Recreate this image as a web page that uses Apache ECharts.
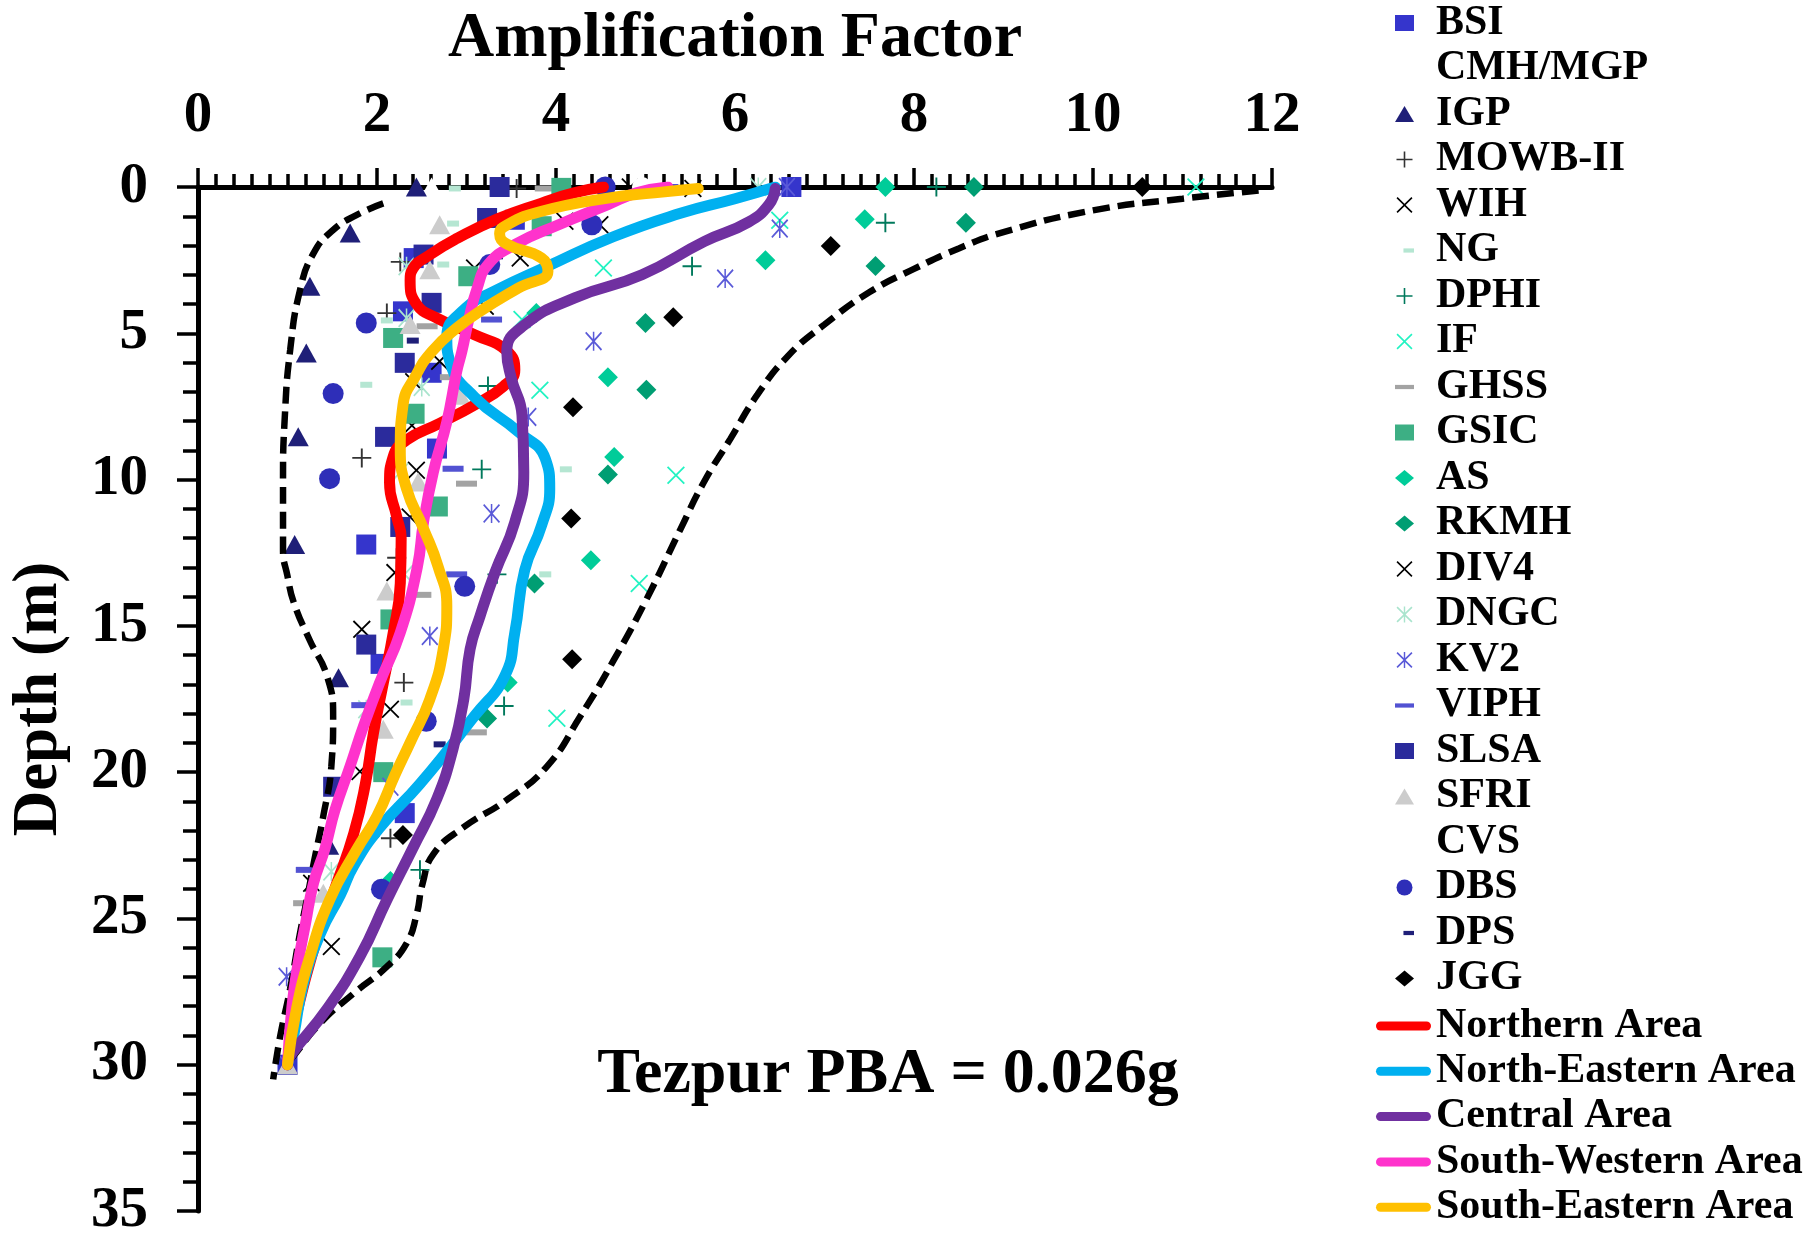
<!DOCTYPE html>
<html>
<head>
<meta charset="utf-8">
<title>Tezpur PBA - Amplification Factor</title>
<script src="https://cdn.jsdelivr.net/npm/echarts@6/dist/echarts.min.js"></script>
<style>
html, body { margin: 0; padding: 0; background: #fff; }
#chart { width: 1816px; height: 1239px; }
</style>
</head>
<body>
<div id="chart"></div>
<script>
// station points: [amplification factor, depth (m)]
const BSI = [[6.63,0],[3.54,1.12],[2.41,2.43],[2.29,4.25],[2.61,6.35],[2.67,8.94],[1.88,12.22],[2.04,16.3],[2.31,21.4],[1.0,30]];
const CMH_MGP = [[2.61,0]];
const IGP = [[2.44,0],[1.70,1.57],[1.25,3.39],[1.21,5.67],[1.12,8.54],[1.08,12.22],[1.57,16.77],[1.46,22.5],[1.0,30]];
const MOWB_II = [[3.56,0.05],[2.26,2.56],[2.11,4.31],[1.83,9.26],[2.22,12.67],[2.30,16.94],[2.15,22.26]];
const WIH = [[4.83,0],[4.10,1.17],[3.09,2.77],[3.21,4.08],[2.70,5.96],[2.39,8.15],[2.37,11.28],[1.83,15.12],[1.81,19.98],[1.27,23.8]];
const NG = [[2.87,0.05],[2.85,1.25],[2.74,2.65],[2.11,4.56],[1.88,6.76],[4.11,9.65],[3.88,13.24],[2.33,17.62]];
const DPHI = [[8.25,0],[7.68,1.22],[5.52,2.71],[3.24,6.8],[3.17,9.65],[3.34,13.24],[3.42,17.74],[2.48,23.34]];
const IF = [[11.15,0],[6.5,1.14],[4.53,2.77],[3.62,4.53],[3.82,6.95],[5.34,9.85],[4.93,13.55],[4.01,18.16]];
const GHSS = [[3.88,0.05],[2.56,4.76],[2.82,6.5],[3.0,10.14],[2.49,13.94],[3.11,18.64],[1.18,24.48]];
const GSIC = [[4.06,0.03],[3.84,1.34],[3.02,3.05],[2.18,5.16],[2.42,7.75],[2.68,10.92],[2.15,14.78],[2.07,20.0],[2.06,26.33]];
const AS = [[7.68,0],[7.45,1.1],[6.34,2.5],[3.78,4.31],[4.58,6.5],[4.65,9.23],[4.39,12.76],[3.46,16.94],[2.15,23.72]];
const RKMH = [[8.67,0],[8.58,1.22],[7.57,2.7],[5.0,4.65],[5.01,6.93],[4.58,9.83],[3.76,13.55],[3.23,18.17],[1.92,22.2]];
const DIV4 = [[5.53,0.05],[4.49,1.29],[3.60,2.43],[2.41,6.66],[2.44,9.68],[2.2,13.18],[2.15,17.85],[1.49,25.96]];
const DNGC = [[6.26,0],[2.33,2.71],[2.33,4.48],[2.50,6.84],[2.26,9.74],[2.31,13.24],[1.88,17.85],[1.49,23.4]];
const KV2 = [[6.58,0],[6.5,1.42],[5.89,3.13],[4.42,5.27],[3.69,7.86],[3.28,11.16],[2.59,15.35],[2.15,20.5],[0.99,26.99],[1.0,30]];
const VIPH = [[5.25,0],[3.28,4.53],[2.85,9.63],[2.89,13.24],[1.83,17.71],[1.21,23.34]];
const SLSA = [[3.37,0],[3.23,1.06],[2.52,2.31],[2.61,3.96],[2.31,6.01],[2.09,8.54],[2.26,11.62],[1.88,15.64],[1.51,20.5]];
const SFRI = [[2.70,1.29],[2.59,2.83],[2.37,4.7],[2.93,7.12],[2.46,10.08],[2.11,13.81],[2.07,18.53],[1.40,24.14],[1.0,30]];
const CVS = [[4.96,0]];
const DBS = [[4.55,0],[4.40,1.29],[3.26,2.65],[1.88,4.65],[1.51,7.06],[1.47,9.97],[2.98,13.65],[2.55,18.26],[2.05,24.0]];
const DPS = [[3.34,2.37],[2.40,5.25],[2.70,19.05]];
const JGG = [[10.55,0],[7.07,2.02],[5.31,4.45],[4.19,7.53],[4.17,11.33],[4.18,16.14],[2.29,22.15]];

// area average curves
const northernArea = [[4.53,0],[4.2,0.2],[3.84,0.55],[3.34,1.1],[2.9,1.75],[2.6,2.3],[2.4,2.8],[2.37,3.2],[2.44,4.0],[2.67,4.48],[3.09,5.05],[3.45,5.6],[3.54,6.25],[3.41,6.82],[3.09,7.45],[2.7,8.08],[2.33,8.65],[2.18,9.22],[2.14,10.1],[2.22,11.27],[2.27,12.0],[2.26,13.55],[2.18,15.26],[2.07,16.96],[1.96,18.67],[1.87,20.4],[1.74,22.1],[1.55,23.8],[1.35,25.5],[1.18,27.3],[1.05,29.0],[1.0,30.0]];
const northEasternArea = [[6.45,0],[6.0,0.4],[5.39,0.9],[4.64,1.7],[3.9,2.72],[3.34,3.52],[2.97,4.2],[2.78,5.12],[2.82,6.03],[3.09,7.18],[3.58,8.37],[3.88,9.28],[3.93,10.31],[3.84,11.56],[3.65,13.1],[3.54,15.23],[3.43,16.7],[3.09,18.08],[2.48,20.4],[2.03,21.9],[1.74,23.2],[1.59,24.2],[1.37,25.5],[1.18,27.2],[1.07,29.0],[1.0,30.0]];
const centralArea = [[6.45,0.05],[6.38,0.6],[6.15,1.2],[5.66,1.86],[4.96,3.0],[4.21,3.79],[3.65,4.71],[3.45,5.62],[3.5,6.53],[3.62,7.8],[3.64,9.74],[3.54,11.45],[3.32,13.16],[3.15,14.68],[3.04,15.8],[2.97,17.5],[2.85,19.2],[2.67,20.9],[2.4,22.6],[2.11,24.37],[1.81,26.3],[1.44,28.1],[1.03,29.7],[1.0,30.0]];
const southWesternArea = [[5.25,0],[4.9,0.2],[4.58,0.6],[4.03,1.29],[3.54,1.97],[3.24,2.65],[3.12,3.45],[3.02,4.6],[2.95,5.6],[2.89,6.32],[2.78,8.03],[2.63,9.74],[2.52,11.45],[2.45,13.0],[2.26,15.23],[2.03,16.94],[1.85,18.42],[1.70,19.79],[1.53,21.3],[1.42,22.6],[1.29,23.8],[1.2,25.2],[1.12,26.5],[1.05,28.0],[1.0,30.0]];
const southEasternArea = [[5.59,0.05],[5.1,0.2],[4.58,0.38],[3.84,0.83],[3.45,1.3],[3.37,1.6],[3.45,1.95],[3.84,2.43],[3.91,2.88],[3.58,3.45],[3.15,4.25],[2.89,4.82],[2.62,5.6],[2.44,6.41],[2.29,7.46],[2.26,8.94],[2.33,10.31],[2.52,11.68],[2.68,12.95],[2.78,14.32],[2.74,15.8],[2.59,17.51],[2.37,18.99],[2.2,20.1],[2.0,21.5],[1.77,22.66],[1.47,24.37],[1.25,26.3],[1.1,28.1],[1.0,30.0]];

// envelope (dashed)
const lowerBound = [[2.07,0.56],[1.77,0.96],[1.51,1.47],[1.29,2.27],[1.14,3.52],[1.03,5.57],[0.97,7.85],[0.95,10.1],[0.95,12.4],[1.0,13.3],[1.07,14.2],[1.25,15.5],[1.44,16.7],[1.51,18.1],[1.49,19.8],[1.40,21.5],[1.30,23.0],[1.22,24.3],[1.14,25.5],[1.03,27.4],[0.92,29.0],[0.84,30.5]];
const upperBound = [[11.85,0.12],[11.0,0.4],[10.0,0.8],[9.0,1.54],[8.5,2.1],[8.0,2.8],[7.5,3.6],[7.0,4.7],[6.6,5.75],[6.25,7.1],[5.95,8.6],[5.65,10.1],[5.39,11.7],[5.01,14.1],[4.64,16.2],[4.27,18.1],[3.9,19.8],[3.45,20.95],[2.96,21.9],[2.63,22.8],[2.51,23.8],[2.44,24.9],[2.33,25.85],[2.11,26.65],[1.74,27.56],[1.36,28.6],[1.03,29.84],[0.97,30.0]];

const FONT = '"Liberation Serif", "Times New Roman", serif';

// marker shapes
const PLUS = 'path://M8.1,0h1.8v8.1h8.1v1.8h-8.1v8.1h-1.8v-8.1h-8.1v-1.8h8.1z';
const CROSS = 'path://M0,1.27L1.27,0L9,7.73L16.73,0L18,1.27L10.27,9L18,16.73L16.73,18L9,10.27L1.27,18L0,16.73L7.73,9z';
const STAR = 'path://M8.2,0h1.6v18h-1.6zM0,1.27L1.27,0L9,7.73L16.73,0L18,1.27L10.27,9L18,16.73L16.73,18L9,10.27L1.27,18L0,16.73L7.73,9z';
const BAR = 'path://M0,0h18v4h-18z';
const SHORT_BAR_ICON = 'path://M0,0L0,0M18,15L18,15M8,5.5h10v4h-10z';
const LINE_ICON = 'path://M4.5,0h46a4.5,4.5 0 0 1 0,9h-46a4.5,4.5 0 0 1 0,-9z';

// name, data, symbol, size, colour
const stations = [
  ['BSI', BSI, 'rect', 20, '#3535cc'],
  ['CMH/MGP', CMH_MGP, 'triangle', [21, 19], '#ffffff'],
  ['IGP', IGP, 'triangle', [21, 19], '#1f1f78'],
  ['MOWB-II', MOWB_II, PLUS, 19, '#333333'],
  ['WIH', WIH, CROSS, 18, '#000000'],
  ['NG', NG, BAR, [12, 6], '#b5e6d2'],
  ['DPHI', DPHI, PLUS, 19, '#00795c'],
  ['IF', IF, CROSS, 18, '#22f3c2'],
  ['GHSS', GHSS, BAR, [21, 6], '#a3a3a3'],
  ['GSIC', GSIC, 'rect', 20, '#3daf84'],
  ['AS', AS, 'diamond', 20, '#00cc99'],
  ['RKMH', RKMH, 'diamond', 20, '#009e73'],
  ['DIV4', DIV4, CROSS, 18, '#000000'],
  ['DNGC', DNGC, STAR, [17, 19], '#a9e4cd'],
  ['KV2', KV2, STAR, [17, 19], '#5a5ad8'],
  ['VIPH', VIPH, BAR, [21, 6], '#5252d2'],
  ['SLSA', SLSA, 'rect', 20, '#2b2b9c'],
  ['SFRI', SFRI, 'triangle', [21, 19], '#cccccc'],
  ['CVS', CVS, 'circle', 20, '#ffffff'],
  ['DBS', DBS, 'circle', 21, '#2e2eb8'],
  ['DPS', DPS, BAR, [12, 6], '#1f1f78'],
  ['JGG', JGG, 'diamond', 20, '#000000']
];

const areas = [
  ['Northern Area', northernArea, '#ff0000'],
  ['North-Eastern Area', northEasternArea, '#00b0f0'],
  ['Central Area', centralArea, '#7030a0'],
  ['South-Western Area', southWesternArea, '#ff33cc'],
  ['South-Eastern Area', southEasternArea, '#ffc000']
];

const series = [];
stations.forEach(function (s) {
  series.push({
    name: s[0], type: 'scatter', data: s[1],
    symbol: s[2], symbolSize: s[3],
    itemStyle: { color: s[4], opacity: 1 },
    z: 2, silent: true
  });
});
[lowerBound, upperBound].forEach(function (d, i) {
  series.push({
    name: i ? 'upper' : 'lower', type: 'line', data: d,
    smooth: true, symbol: 'none',
    lineStyle: { color: '#000', width: 6.5, type: [17, 8] },
    z: 3, silent: true
  });
});
areas.forEach(function (a) {
  series.push({
    name: a[0], type: 'line', data: a[1],
    smooth: true, symbol: 'none',
    itemStyle: { color: a[2] },
    lineStyle: { color: a[2], width: 11, cap: 'round', join: 'round' },
    z: 4, silent: true
  });
});

const legendText = { fontFamily: FONT, fontWeight: 'bold', fontSize: 42, lineHeight: 42, color: '#000' };

const chart = echarts.init(document.getElementById('chart'));
chart.setOption({
  animation: false,
  backgroundColor: '#fff',
  grid: { left: 198, top: 187, width: 1074, height: 1024, outerBoundsMode: 'none' },
  xAxis: {
    type: 'value', position: 'top', min: 0, max: 12, interval: 2,
    name: 'Amplification Factor', nameLocation: 'middle', nameGap: 116,
    nameTextStyle: { fontFamily: FONT, fontWeight: 'bold', fontSize: 64, color: '#000' },
    axisLine: { show: true, onZero: false, lineStyle: { color: '#000', width: 5 } },
    axisTick: { show: true, length: 19, lineStyle: { color: '#000', width: 3.5 } },
    minorTick: { show: true, splitNumber: 10, length: 13, lineStyle: { color: '#000', width: 3.5 } },
    axisLabel: { margin: 42, fontFamily: FONT, fontWeight: 'bold', fontSize: 57, color: '#000' },
    splitLine: { show: false }
  },
  yAxis: {
    type: 'value', inverse: true, min: 0, max: 35, interval: 5,
    name: 'Depth (m)', nameLocation: 'middle', nameGap: 127,
    nameTextStyle: { fontFamily: FONT, fontWeight: 'bold', fontSize: 63, color: '#000' },
    axisLine: { show: true, onZero: false, lineStyle: { color: '#000', width: 5 } },
    axisTick: { show: true, length: 21, lineStyle: { color: '#000', width: 3.5 } },
    minorTick: { show: true, splitNumber: 5, length: 15, lineStyle: { color: '#000', width: 3.5 } },
    axisLabel: { margin: 50, fontFamily: FONT, fontWeight: 'bold', fontSize: 57, color: '#000' },
    splitLine: { show: false }
  },
  legend: [{
    orient: 'vertical', left: 1395, top: 2, padding: 0,
    itemWidth: 19, itemHeight: 16, itemGap: 3.5, selectedMode: false,
    textStyle: Object.assign({ padding: [0, 0, 0, 17] }, legendText),
    data: stations.map(function (s) {
      return (s[0] === 'NG' || s[0] === 'DPS') ? { name: s[0], icon: SHORT_BAR_ICON } : { name: s[0] };
    })
  }, {
    orient: 'vertical', left: 1376, top: 1005, padding: 0,
    itemWidth: 55, itemHeight: 9, itemGap: 3.3, selectedMode: false,
    textStyle: legendText,
    data: areas.map(function (a) { return { name: a[0], icon: LINE_ICON }; })
  }],
  graphic: [{
    type: 'text', x: 888, y: 1075, silent: true,
    style: {
      text: 'Tezpur PBA = 0.026g', fill: '#000',
      font: 'bold 64px ' + FONT, align: 'center', verticalAlign: 'middle'
    }
  }],
  series: series
});
</script>
</body>
</html>
